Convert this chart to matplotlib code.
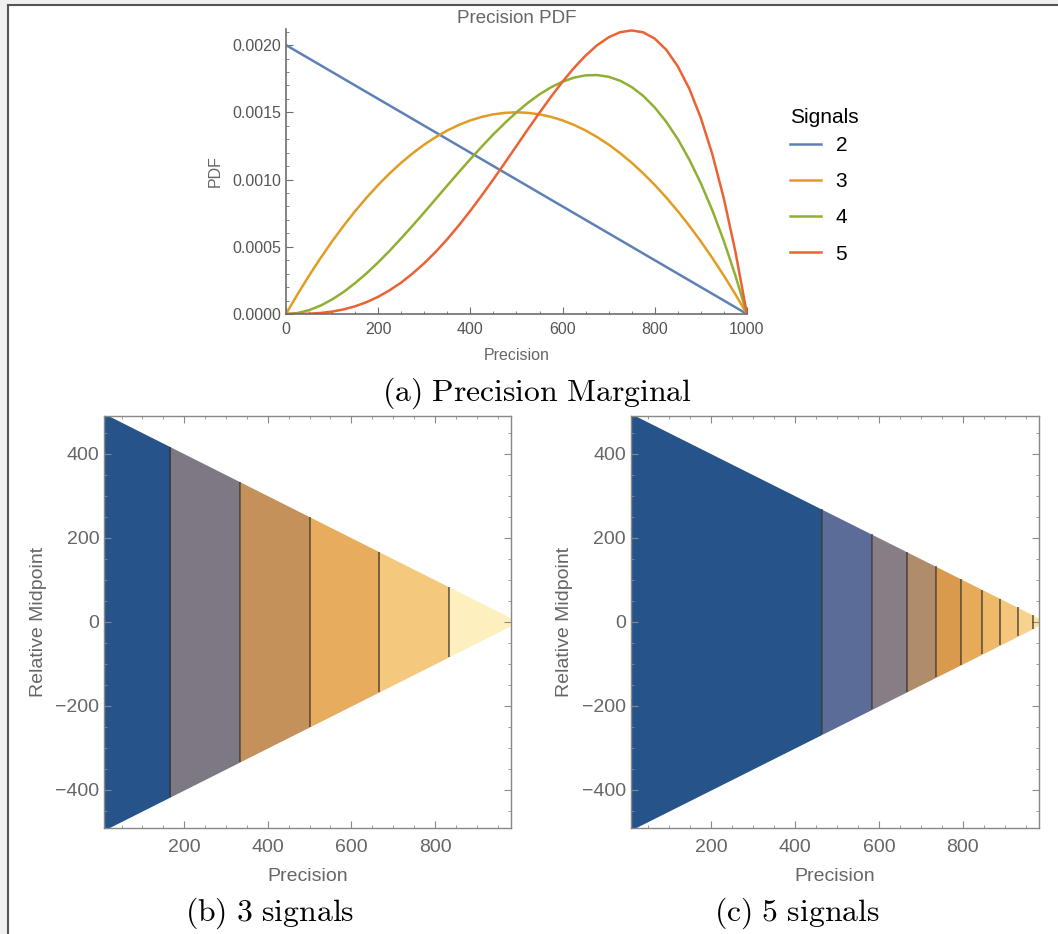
import numpy as np
import matplotlib.pyplot as plt
from matplotlib.patches import Rectangle
from matplotlib.lines import Line2D
from matplotlib.ticker import MultipleLocator

plt.rcParams['font.family'] = ['Liberation Sans', 'DejaVu Sans']
plt.rcParams['mathtext.fontset'] = 'cm'

# --- data ---
signals = ["2", "3", "4", "5"]
line_colors = ["#5E81B5", "#E19C24", "#8FB032", "#EB6235"]

prec_2 = [0, 1000]
pdf_2 = [0.0020, 0.0]

prec = [0, 25, 50, 75, 100, 125, 150, 175, 200, 225, 250, 275, 300, 325, 350,
        375, 400, 425, 450, 475, 500, 525, 550, 575, 600, 625, 650, 675, 700,
        725, 750, 775, 800, 825, 850, 875, 900, 925, 950, 975, 1000]
pdf_3 = [0.0, 0.000146, 0.000285, 0.000416, 0.000540, 0.000656, 0.000765, 0.000866,
         0.000960, 0.001046, 0.001125, 0.001196, 0.001260, 0.001316, 0.001365,
         0.001406, 0.001440, 0.001466, 0.001485, 0.001496, 0.001500, 0.001496,
         0.001485, 0.001466, 0.001440, 0.001406, 0.001365, 0.001316, 0.001260,
         0.001196, 0.001125, 0.001046, 0.000960, 0.000866, 0.000765, 0.000656,
         0.000540, 0.000416, 0.000285, 0.000146, 0.0]
pdf_4 = [0.0, 0.0000073, 0.0000285, 0.0000624, 0.000108, 0.000164, 0.000230, 0.000303,
         0.000384, 0.000471, 0.000563, 0.000658, 0.000756, 0.000856, 0.000956,
         0.001055, 0.001152, 0.001246, 0.001337, 0.001421, 0.001500, 0.001571,
         0.001634, 0.001686, 0.001728, 0.001758, 0.001775, 0.001777, 0.001764,
         0.001735, 0.001688, 0.001622, 0.001536, 0.001429, 0.001301, 0.001148,
         0.000972, 0.000770, 0.000542, 0.000285, 0.0]
pdf_5 = [0.0, 0.0000003, 0.0000024, 0.0000078, 0.0000180, 0.0000342, 0.0000574, 0.0000884,
         0.000128, 0.000177, 0.000234, 0.000302, 0.000378, 0.000463, 0.000557,
         0.000659, 0.000768, 0.000883, 0.001002, 0.001125, 0.001250, 0.001375,
         0.001497, 0.001616, 0.001728, 0.001831, 0.001922, 0.001999, 0.002058,
         0.002096, 0.002109, 0.002095, 0.002048, 0.001965, 0.001842, 0.001675,
         0.001458, 0.001187, 0.000857, 0.000463, 0.0]

# triangle region (precision vs relative midpoint)
tri_x = [0, 1000]
tri_half = [500, 0]

edges_3 = [0, 167, 333, 500, 667, 833, 1000]
colors_3 = ["#26548A", "#7D7883", "#C4915A", "#E8AC5E", "#F5C97D", "#FDF0BE"]

edges_5 = [0, 464, 584, 668, 736, 796, 846, 890, 931, 967, 1000]
colors_5 = ["#26548A", "#5B6C99", "#877D84", "#B08D6A", "#DA9A4E",
            "#E6AA58", "#EEB968", "#F3C67C", "#F7D38E", "#FBE3A8"]

gray = "#6E6E6E"

fig = plt.figure(figsize=(10.58, 9.34), dpi=100)

# window border look (light gray strip top/left with dark line)
fig.patches.append(Rectangle((0, 0), 1, 1, transform=fig.transFigure,
                             facecolor="#F0F0F0", edgecolor="none", zorder=-10))
fig.patches.append(Rectangle((7.5 / 1058, 0), 1, 1 - 4.5 / 934, transform=fig.transFigure,
                             facecolor="white", edgecolor="none", zorder=-9))
fig.lines.append(Line2D([7.5 / 1058, 1], [1 - 4.5 / 934, 1 - 4.5 / 934],
                        transform=fig.transFigure, color="#555555", lw=1.5))
fig.lines.append(Line2D([7.5 / 1058, 7.5 / 1058], [0, 1 - 4.5 / 934],
                        transform=fig.transFigure, color="#555555", lw=1.5))

# --- (a) precision marginal ---
ax = fig.add_axes([0.2703, 0.6638, 0.4357, 0.3052])
ax.plot(prec_2, pdf_2, color=line_colors[0], lw=1.8, label=signals[0])
ax.plot(prec, pdf_3, color=line_colors[1], lw=1.8, label=signals[1])
ax.plot(prec, pdf_4, color=line_colors[2], lw=1.8, label=signals[2])
ax.plot(prec, pdf_5, color=line_colors[3], lw=1.8, label=signals[3])
ax.set_xlim(0, 1000)
ax.set_ylim(0, 0.00212)
ax.spines['top'].set_visible(False)
ax.spines['right'].set_visible(False)
for s in ['left', 'bottom']:
    ax.spines[s].set_color(gray)
    ax.spines[s].set_linewidth(1.2)
ax.xaxis.set_major_locator(MultipleLocator(200))
ax.xaxis.set_minor_locator(MultipleLocator(50))
ax.yaxis.set_major_locator(MultipleLocator(0.0005))
ax.yaxis.set_minor_locator(MultipleLocator(0.0001))
ax.set_yticks([0, 0.0005, 0.001, 0.0015, 0.002])
ax.set_yticklabels(["0.0000", "0.0005", "0.0010", "0.0015", "0.0020"])
ax.tick_params(which='both', direction='in', colors=gray, labelcolor="#555555",
               labelsize=11.5)
ax.tick_params(axis='x', pad=6)
ax.tick_params(which='major', length=5)
ax.tick_params(which='minor', length=2.5)
ax.set_xlabel("Precision", color="#666666", fontsize=11.5, labelpad=8)
ax.set_ylabel("PDF", color="#666666", fontsize=11.5, labelpad=7)
ax.set_title("Precision PDF", color="#666666", fontsize=13.5, pad=4)
leg = ax.legend(title="Signals", loc='upper left', bbox_to_anchor=(1.052, 0.79),
                frameon=False, fontsize=15, title_fontsize=15, handlelength=1.5,
                labelspacing=0.82, handletextpad=0.7)
leg._legend_box.align = "left"
leg._legend_box.sep = 7
fig.text(0.507, 1 - 393 / 934, r"$\mathrm{(a)\ Precision\ Marginal}$",
         ha='center', va='center', fontsize=22.8)


def region_panel(rect, edges, colors, caption, cx):
    a = fig.add_axes(rect)
    for i in range(len(colors)):
        xs = [edges[i], edges[i + 1]]
        h = np.interp(xs, tri_x, tri_half)
        a.fill_between(xs, -h, h, color=colors[i], lw=0)
    inner = edges[1:-1]
    h = np.interp(inner, tri_x, tri_half)
    a.vlines(inner, -h, h, color="#3A3226", alpha=0.65, lw=1.4)
    a.set_xlim(8, 982)
    a.set_ylim(-490, 490)
    a.xaxis.set_major_locator(MultipleLocator(200))
    a.xaxis.set_minor_locator(MultipleLocator(50))
    a.yaxis.set_major_locator(MultipleLocator(200))
    a.yaxis.set_minor_locator(MultipleLocator(50))
    for s in a.spines.values():
        s.set_color("#888888")
        s.set_linewidth(1.0)
    a.tick_params(which='both', direction='in', top=True, right=True,
                  colors="#888888", labelcolor="#666666", labelsize=14)
    a.tick_params(axis='x', pad=8)
    a.tick_params(which='major', length=5)
    a.tick_params(which='minor', length=2.5)
    a.set_xticks([200, 400, 600, 800])
    a.set_yticks([-400, -200, 0, 200, 400])
    a.set_yticklabels(["\u2212400", "\u2212200", "0", "200", "400"])
    a.set_xlabel("Precision", color="#666666", fontsize=14, labelpad=9)
    a.set_ylabel("Relative Midpoint", color="#666666", fontsize=14, labelpad=6)
    fig.text(cx, 1 - 913 / 934, caption, ha='center', va='center', fontsize=22.8)
    return a


region_panel([0.0983, 0.1138, 0.3847, 0.4408], edges_3, colors_3,
             r"$\mathrm{(b)\ 3\ signals}$", 270 / 1058)
region_panel([0.5961, 0.1138, 0.3859, 0.4408], edges_5, colors_5,
             r"$\mathrm{(c)\ 5\ signals}$", 797 / 1058)

fig.savefig("out.png", dpi=100)
